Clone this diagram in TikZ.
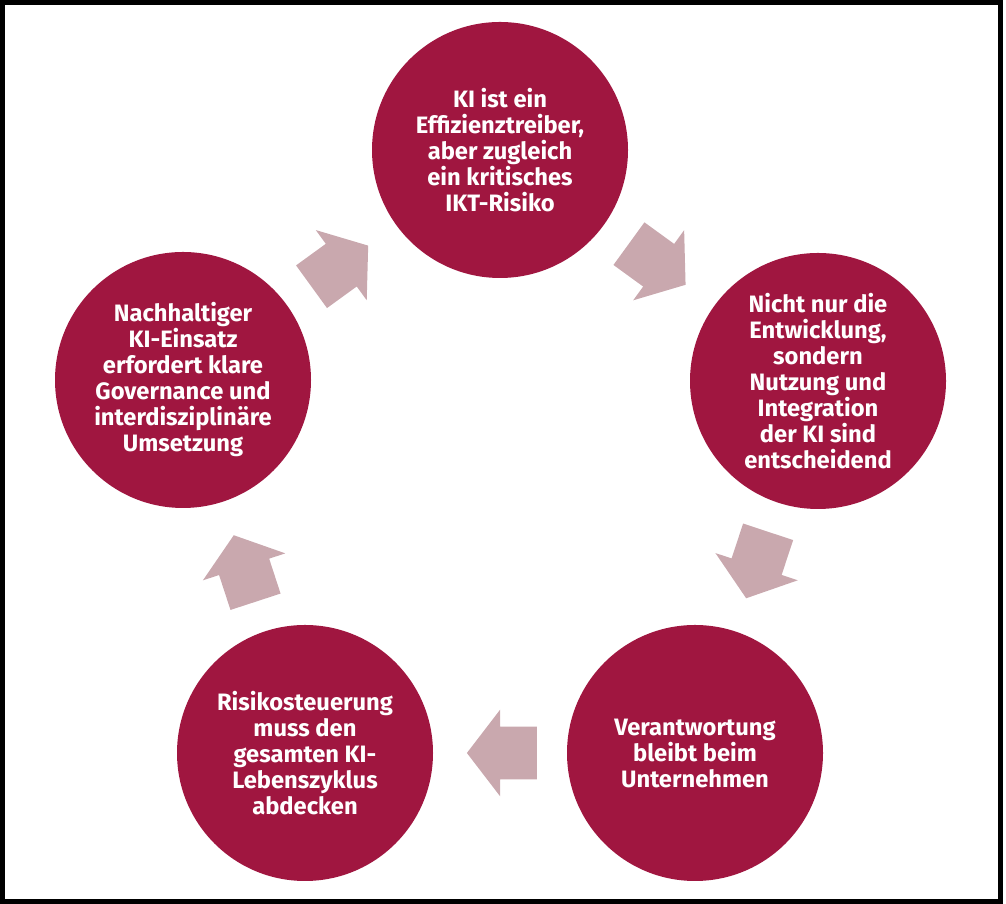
\documentclass[tikz,border=0pt]{standalone}
\usepackage{fontspec}
\setmainfont{Fira Sans}
\usepackage{xcolor}
\usetikzlibrary{
    shapes.arrows,
    positioning
}
\definecolor{kirot}{HTML}{A01640}
\definecolor{kipfeil}{HTML}{C9A8AE}
\tikzset{
    kreis/.style={circle, fill=kirot, minimum size=5.12cm, inner sep=0pt, text=white, align=center, font=\bfseries\fontsize{13.5}{14.8}\selectfont},
    pfeil/.style={single arrow, fill=kipfeil, minimum height=1.4cm, inner xsep=0pt, inner ysep=0.52cm, single arrow head extend=0.34cm, single arrow tip angle=105, sloped, allow upside down}
}

\begin{document}
\begin{tikzpicture}
    \useasboundingbox (0,0) rectangle (20.12,18.08);
    \draw[line width=0.1cm] (0.05,0.05) rectangle (20.01,18.03);
    \node[kreis] (risiko) at (10.0,15.08) {KI ist ein\\Effizienztreiber,\\aber zugleich\\ein kritisches\\IKT-Risiko};
    \node[kreis] (nutzung) at (16.36,10.46) {Nicht nur die\\Entwicklung,\\sondern\\Nutzung und\\Integration\\der KI sind\\entscheidend};
    \node[kreis] (verantwortung) at (13.90,3.02) {Verantwortung\\bleibt beim\\Unternehmen};
    \node[kreis] (lebenszyklus) at (6.10,3.02) {Risikosteuerung\\muss den\\gesamten KI-\\Lebenszyklus\\abdecken};
    \node[kreis] (governance) at (3.66,10.48) {Nachhaltiger\\KI-Einsatz\\erfordert klare\\Governance und\\interdisziplinäre\\Umsetzung};
    \foreach \von/\nach in {risiko/nutzung, nutzung/verantwortung, verantwortung/lebenszyklus, lebenszyklus/governance, governance/risiko}
        \path (\von) -- node[pfeil, pos=0.41] {} (\nach);
\end{tikzpicture}
\end{document}
